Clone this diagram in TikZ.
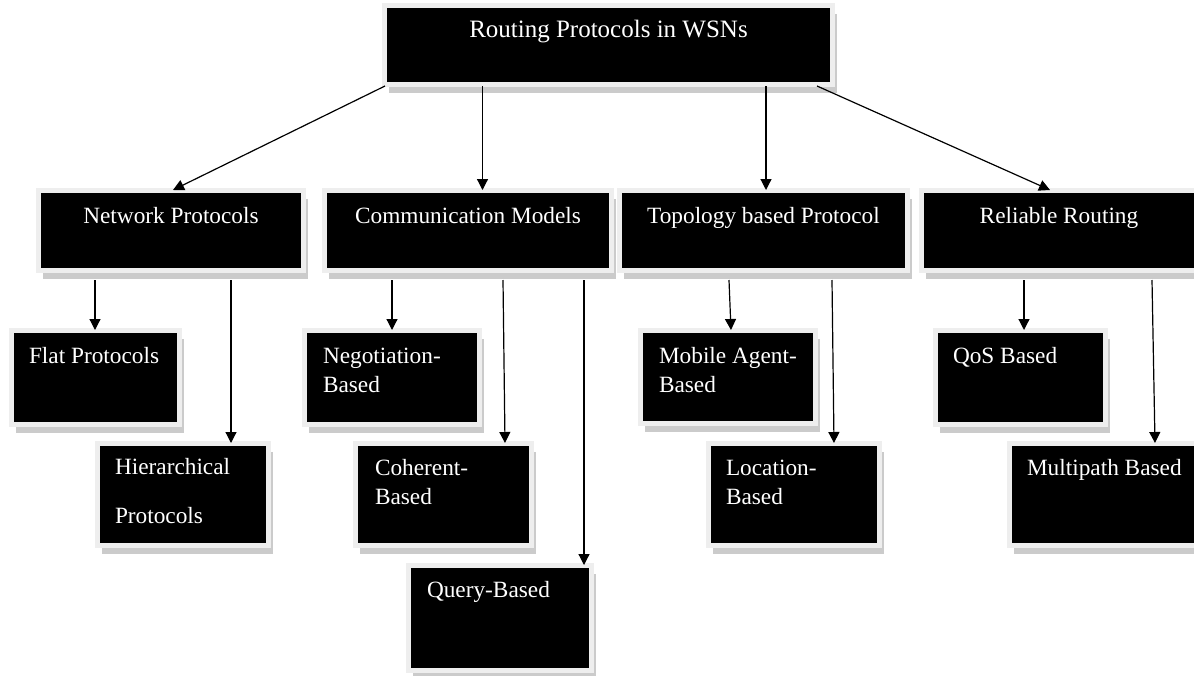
\documentclass[tikz,border=0pt]{standalone}
\usepackage{fontspec}
\setmainfont{Liberation Serif}
\usetikzlibrary{arrows.meta,shadows,calc}
\definecolor{framec}{HTML}{EEEEEE}
\definecolor{shadowc}{HTML}{CBCBCB}
% #1 width, #2 height, #3 first baseline depth, #4 left indent, #5 baselineskip, #6 text
\newcommand\lbx[6]{\vbox to #2{\hsize=#1\relax\parindent=0pt\parskip=0pt\leftskip=#4\relax\rightskip=0pt plus 1fil\relax\baselineskip=#5\relax\lineskiplimit=-100pt\noindent\rule{0pt}{#3}#6\par\vfill}}
% #1 width, #2 height, #3 first baseline depth, #4 text
\newcommand\cbx[4]{\vbox to #2{\hsize=#1\relax\parindent=0pt\parskip=0pt\leftskip=0pt plus 1fil\relax\rightskip=0pt plus 1fil\relax\parfillskip=0pt\relax\noindent\rule{0pt}{#3}#4\par\vfill}}
\tikzset{
  box/.style={anchor=north west, inner sep=0pt, outer sep=0pt, fill=black, draw=framec,
    line width=5pt, text=white, font=\fontsize{23.3}{28}\selectfont,
    drop shadow={shadow xshift=4pt, shadow yshift=-8pt, fill=shadowc, opacity=1}},
  arr/.style={-{Triangle[width=11pt,length=11pt]}, line width=1.2pt, draw=black}
}
\begin{document}
\begin{tikzpicture}[x=1pt,y=-1pt]
\useasboundingbox (0,0) rectangle (1194,675);
\clip (0,0) rectangle (1194,675);
\fill[white] (0,0) rectangle (1194,675);
% level 1
\node[box, font=\fontsize{25}{30}\selectfont] (top) at (384.5,5.5) {\cbx{448pt}{79pt}{31.5pt}{Routing Protocols in WSNs}};
% level 2
\node[box] (net)  at (38.5,190.5)  {\cbx{265pt}{80pt}{32.5pt}{Network Protocols}};
\node[box] (com)  at (324.5,190.5) {\cbx{287pt}{80pt}{32.5pt}{Communication Models}};
\node[box] (topo) at (619.5,190.5) {\cbx{288pt}{80pt}{32.5pt}{Topology based Protocol}};
\node[box] (rel)  at (921.5,190.5) {\cbx{275pt}{80pt}{32.5pt}{Reliable Routing}};
% level 3
\node[box] (flat)  at (11.5,330.5)   {\lbx{168pt}{94pt}{32.5pt}{17.5pt}{29pt}{Flat Protocols}};
\node[box] (hier)  at (97.5,443.5)   {\lbx{171pt}{102pt}{30.5pt}{17.5pt}{49pt}{Hierarchical\par Protocols}};
\node[box] (neg)   at (304.5,330.5)  {\lbx{175pt}{94pt}{32.5pt}{18.5pt}{29pt}{Negotiation-\par Based}};
\node[box] (coh)   at (355.5,443.5)  {\lbx{176pt}{102pt}{31.5pt}{19.5pt}{29pt}{Coherent-\par Based}};
\node[box] (query) at (408.5,565.5)  {\lbx{183pt}{105pt}{31.5pt}{18.5pt}{29pt}{Query-Based}};
\node[box] (mob)   at (640.5,330.5)  {\lbx{175pt}{93pt}{32.5pt}{18.5pt}{29pt}{Mobile Agent-\par Based}};
\node[box] (loc)   at (708.5,443.5)  {\lbx{171pt}{102pt}{31.5pt}{17.5pt}{29pt}{Location-\par Based}};
\node[box] (qos)   at (935.5,330.5)  {\lbx{170pt}{94pt}{32.5pt}{17.5pt}{29pt}{QoS Based}};
\node[box] (multi) at (1009.5,443.5) {\lbx{200pt}{102pt}{31.5pt}{17.5pt}{29pt}{Multipath Based}};
% connectors level 1 -> 2
\draw[arr] ($(top.south west)+(0.5,1.5)$) -- ($(net.north west)+(134.5,-0.5)$);
\draw[arr] ($(top.south west)+(98,1.5)$) -- ($(com.north west)+(158,-0.5)$);
\draw[arr] ($(top.south west)+(381.5,1.5)$) -- ($(topo.north west)+(146.5,-0.5)$);
\draw[arr] ($(top.south west)+(432.5,1.5)$) -- ($(rel.north west)+(128.5,-0.5)$);
% connectors level 2 -> 3
\draw[arr] ($(net.south west)+(56.5,9.5)$) -- ($(flat.north west)+(83.5,-0.5)$);
\draw[arr] ($(net.south west)+(192.5,9.5)$) -- ($(hier.north west)+(133.5,-0.5)$);
\draw[arr] ($(com.south west)+(67.5,9.5)$) -- ($(neg.north west)+(87.5,-0.5)$);
\draw[arr] ($(com.south west)+(178.5,9.5)$) -- ($(coh.north west)+(149.5,-0.5)$);
\draw[arr] ($(com.south west)+(259.5,9.5)$) -- ($(query.north west)+(175.5,-0.5)$);
\draw[arr] ($(topo.south west)+(109.5,9.5)$) -- ($(mob.north west)+(90.5,-0.5)$);
\draw[arr] ($(topo.south west)+(212.5,9.5)$) -- ($(loc.north west)+(125.5,-0.5)$);
\draw[arr] ($(rel.south west)+(102.5,9.5)$) -- ($(qos.north west)+(88.5,-0.5)$);
\draw[arr] ($(rel.south west)+(230.5,9.5)$) -- ($(multi.north west)+(145.5,-0.5)$);
\end{tikzpicture}
\end{document}
